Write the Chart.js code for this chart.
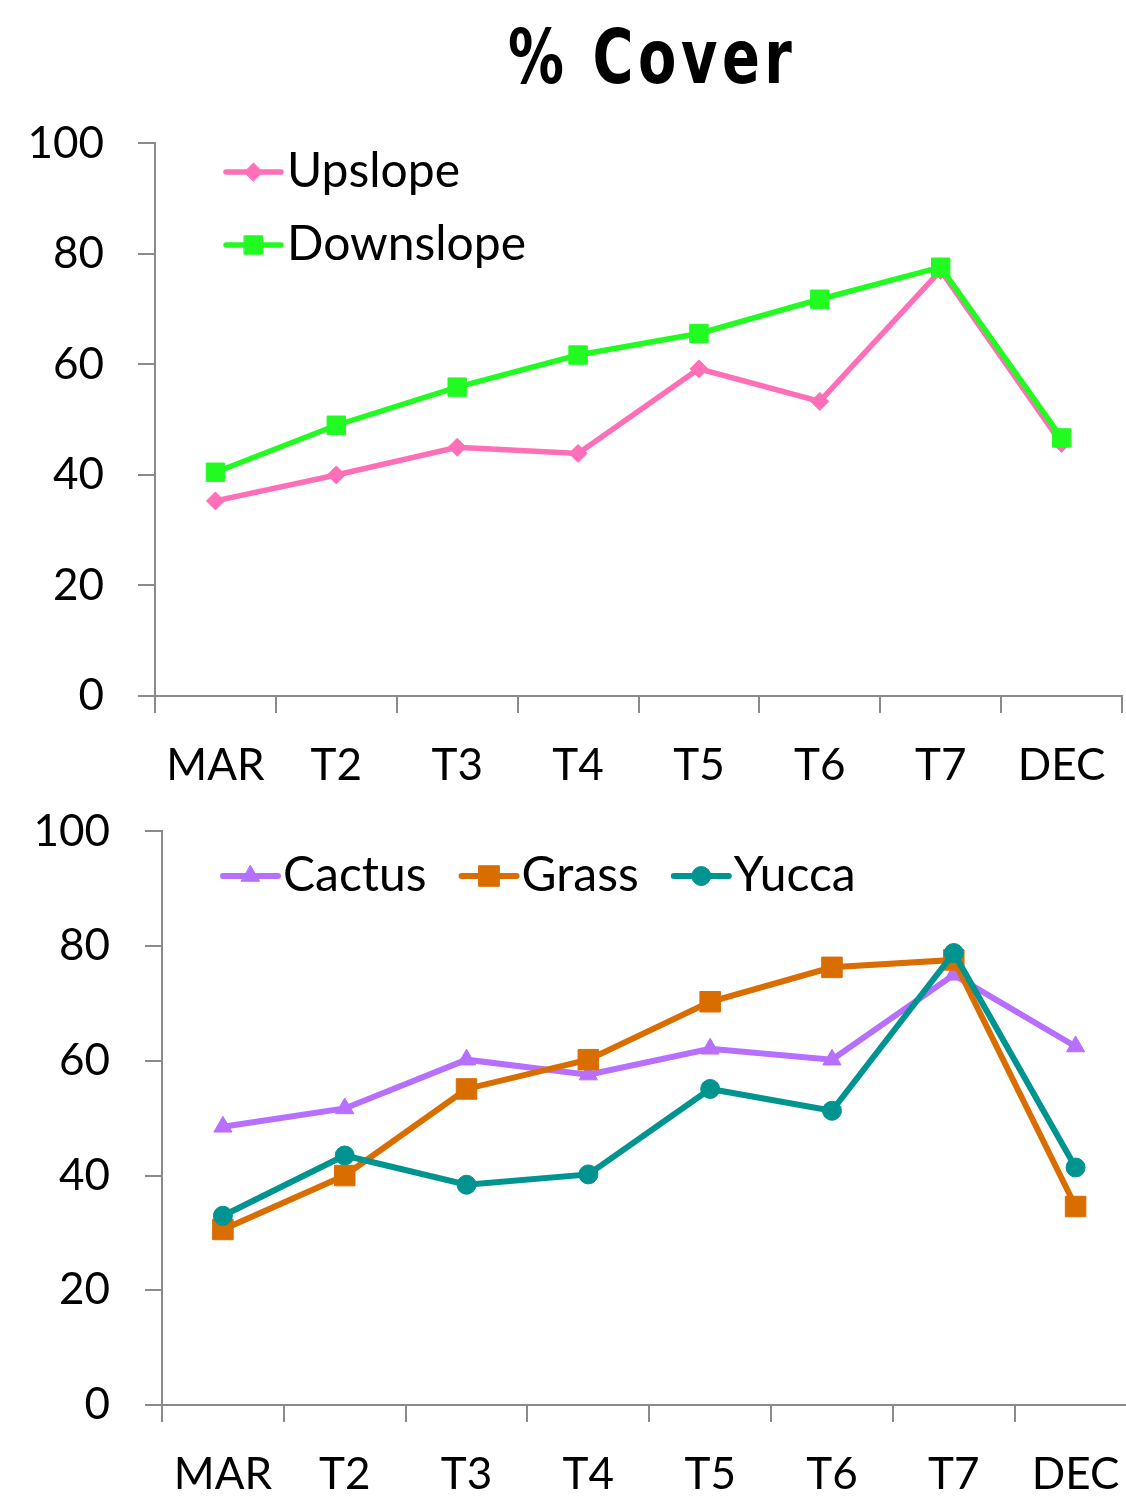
<!DOCTYPE html>
<html>
<head>
<meta charset="utf-8">
<script src="https://cdn.jsdelivr.net/npm/chart.js@4/dist/chart.umd.min.js"></script>
<style>
html,body{margin:0;padding:0;background:#fff;}
#wrap{position:relative;width:1126px;height:1499px;overflow:hidden;background:#fff;}
#title{position:absolute;top:12px;left:508px;font-family:'DejaVu Sans';font-weight:bold;font-size:74px;line-height:90px;white-space:nowrap;transform:scaleX(0.755);transform-origin:left top;letter-spacing:6px;color:#000;}
#c1{position:absolute;left:0;top:83px;}
#c2{position:absolute;left:0;top:770px;}
</style>
</head>
<body>
<div id="wrap">
  <div id="title">% Cover</div>
  <canvas id="c1" width="1136" height="717"></canvas>
  <canvas id="c2" width="1152" height="729"></canvas>
</div>
<script>
// ---- data ----
const categories = ['MAR', 'T2', 'T3', 'T4', 'T5', 'T6', 'T7', 'DEC'];
const upslope   = [35.3, 40.0, 45.0, 43.9, 59.2, 53.3, 77.0, 45.7];
const downslope = [40.5, 49.0, 55.9, 61.7, 65.6, 71.8, 77.6, 46.7];
const cactus    = [48.5, 51.7, 60.2, 57.6, 62.1, 60.2, 75.0, 62.5];
const grass     = [30.6, 40.0, 55.1, 60.2, 70.3, 76.3, 77.6, 34.6];
const yucca     = [33.0, 43.5, 38.4, 40.2, 55.1, 51.3, 78.8, 41.4];
const yMin = 0, yMax = 100, yStep = 20;

const FONT = 'Lato';
const AXIS = '#8a8a8a';

const lineLegend = {
  id: 'lineLegend',
  afterDraw(chart, args, opts) {
    const ctx = chart.ctx;
    ctx.save();
    ctx.font = opts.fontSize + 'px ' + FONT;
    ctx.textBaseline = 'middle';
    ctx.textAlign = 'left';
    let x = opts.x, y = opts.y;
    chart.data.datasets.forEach(ds => {
      ctx.strokeStyle = ds.borderColor;
      ctx.lineWidth = ds.borderWidth;
      ctx.lineCap = 'round';
      ctx.beginPath();
      ctx.moveTo(x, y);
      ctx.lineTo(x + opts.lineLen, y);
      ctx.stroke();
      ctx.fillStyle = ds.pointBackgroundColor;
      ctx.strokeStyle = ds.pointBorderColor;
      ctx.lineWidth = 1;
      Chart.helpers.drawPoint(ctx, {pointStyle: ds.pointStyle, radius: ds.pointRadius, borderWidth: 1, rotation: 0}, x + opts.lineLen / 2, y);
      ctx.fillStyle = '#000';
      const tx = x + opts.lineLen + opts.textGap;
      ctx.fillText(ds.label, tx, y + opts.textDy);
      if (opts.direction === 'row') {
        x = tx + ctx.measureText(ds.label).width + opts.itemGap;
      } else {
        y += opts.rowGap;
      }
    });
    ctx.restore();
  }
};

function ds(label, data, color, style, radius, order, width) {
  return {
    label, data, order,
    borderColor: color, backgroundColor: color,
    borderWidth: width,
    pointStyle: style, pointRadius: radius,
    pointBackgroundColor: color, pointBorderColor: color, pointBorderWidth: 1,
    pointHoverRadius: radius,
    tension: 0, fill: false
  };
}

function makeOptions(cfg) {
  return {
    responsive: false,
    animation: false,
    devicePixelRatio: 1,
    layout: {padding: cfg.padding},
    plugins: {
      legend: {display: false},
      tooltip: {enabled: false},
      title: {display: false},
      lineLegend: cfg.legend
    },
    scales: {
      x: {
        type: 'category',
        offset: true,
        grid: {offset: true, drawOnChartArea: false, drawTicks: true, tickLength: 17, color: AXIS, lineWidth: 2},
        border: {display: true, color: AXIS, width: 2},
        ticks: {color: '#000', font: {family: FONT, size: 44}, padding: cfg.xPad, maxRotation: 0, autoSkip: false},
        afterFit: s => { s.height = cfg.xHeight; }
      },
      y: {
        min: yMin, max: yMax,
        grid: {drawOnChartArea: false, drawTicks: true, tickLength: 17, color: AXIS, lineWidth: 2},
        border: {display: true, color: AXIS, width: 2},
        ticks: {stepSize: yStep, color: '#000', font: {family: FONT, size: 44}, padding: cfg.yPad},
        afterFit: s => { s.width = cfg.yWidth; }
      }
    }
  };
}

new Chart(document.getElementById('c1'), {
  type: 'line',
  data: {
    labels: categories,
    datasets: [
      ds('Upslope', upslope, '#ff6fb7', 'rectRot', 9, 1, 5.5),
      ds('Downslope', downslope, '#22fb22', 'rect', 13, 0, 5.5)
    ]
  },
  options: makeOptions({
    padding: {top: 0, left: 0, right: 0, bottom: 0},
    xHeight: 104, yWidth: 155, xPad: 26, yPad: 34,
    legend: {x: 226, y: 89, lineLen: 55, textGap: 6, rowGap: 73, direction: 'column', fontSize: 48, textDy: 0}
  }),
  plugins: [lineLegend]
});

new Chart(document.getElementById('c2'), {
  type: 'line',
  data: {
    labels: categories,
    datasets: [
      ds('Cactus', cactus, '#b76fff', 'triangle', 10.5, 2, 6),
      ds('Grass', grass, '#da6d00', 'rect', 14.5, 1, 6),
      ds('Yucca', yucca, '#009490', 'circle', 9.5, 0, 6)
    ]
  },
  options: makeOptions({
    padding: {top: 0, left: 0, right: 0, bottom: 0},
    xHeight: 94, yWidth: 162, xPad: 26, yPad: 35,
    legend: {x: 223, y: 106, lineLen: 55, textGap: 5, itemGap: 35, direction: 'row', fontSize: 48, textDy: 0}
  }),
  plugins: [lineLegend]
});
</script>
</body>
</html>
